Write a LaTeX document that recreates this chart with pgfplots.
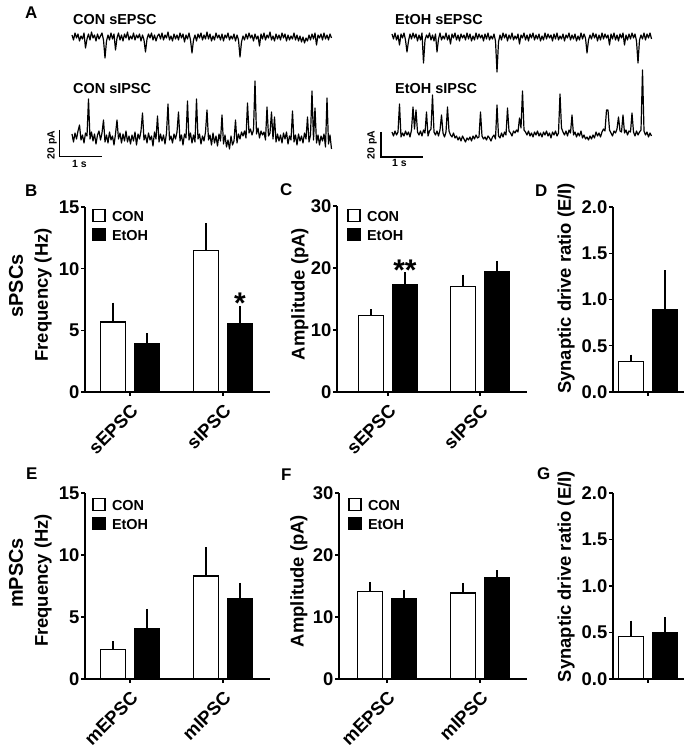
\documentclass[border=0pt]{standalone}
\usepackage{pgfplots}
\pgfplotsset{compat=1.18}
\usepackage{pgfplotstable}
\usepackage{fontspec}
\setmainfont{Liberation Sans}

\newcommand{\fs}[1]{\fontsize{#1}{#1}\selectfont\bfseries}

% traces, one value per sample (pA scaled to px, baseline = 0)
\pgfplotstableread[header=false,row sep=\\]{
2\\-3\\4\\-1\\3\\-4\\1\\-2\\4\\-11\\
-2\\3\\-3\\5\\-1\\2\\-4\\3\\-2\\1\\
4\\-3\\-21\\-4\\2\\-3\\4\\-2\\3\\-13\\
-1\\4\\-3\\2\\-4\\3\\-1\\5\\-3\\1\\
-2\\4\\-3\\2\\-1\\3\\-4\\2\\-3\\-15\\
-2\\3\\-1\\4\\-3\\2\\-4\\1\\3\\-2\\
4\\-3\\2\\-1\\5\\-3\\1\\-4\\3\\-2\\
2\\-3\\4\\-1\\3\\-5\\2\\-2\\4\\-3\\
-16\\-3\\2\\-4\\3\\-1\\4\\-3\\2\\-2\\
5\\-2\\3\\-4\\1\\-3\\4\\-1\\2\\-3\\
3\\-4\\2\\-1\\4\\-3\\1\\-2\\3\\-4\\
2\\-3\\-20\\-5\\1\\-3\\3\\-2\\4\\-1\\
2\\-4\\3\\-2\\1\\-9\\3\\-2\\4\\-3\\
2\\-1\\5\\-3\\1\\-4\\3\\-2\\2\\-3\\
4\\-1\\3\\-4\\2\\-3\\1\\-2\\4\\-3\\
2\\-4\\1\\-5\\0\\-6\\-1\\-4\\2\\-3\\
3\\-2\\4\\-8\\2\\-1\\3\\-3\\4\\-2\\
2\\-3\\3\\-1\\
}\conE

\pgfplotstableread[header=false,row sep=\\]{
3\\-5\\4\\-2\\6\\12\\-3\\2\\-6\\4\\
1\\38\\-2\\5\\-4\\3\\-7\\2\\6\\-3\\
4\\17\\-5\\2\\-6\\5\\-3\\1\\-8\\3\\
17\\-2\\4\\-6\\3\\-4\\6\\-5\\1\\-7\\
2\\-4\\5\\-8\\3\\-2\\6\\24\\-3\\2\\
-6\\4\\-3\\1\\-9\\5\\-2\\21\\-5\\3\\
-4\\2\\-7\\4\\33\\-3\\1\\-6\\3\\-2\\
5\\25\\-4\\2\\-8\\3\\-1\\36\\-3\\4\\
-6\\2\\-5\\38\\-2\\3\\-7\\1\\-4\\5\\
27\\-3\\2\\-8\\4\\-6\\1\\-9\\3\\-4\\
22\\-7\\2\\-10\\-3\\-12\\1\\-8\\-4\\17\\
-6\\3\\-2\\5\\1\\6\\-1\\34\\4\\8\\
2\\7\\56\\3\\9\\-1\\6\\2\\5\\-3\\
30\\1\\4\\25\\-2\\20\\-5\\3\\-4\\2\\
-6\\4\\-2\\5\\-7\\1\\-3\\26\\-5\\2\\
-8\\3\\-4\\1\\-6\\4\\-2\\20\\-5\\2\\
46\\-3\\29\\-6\\2\\-8\\1\\-4\\3\\-10\\
39\\-7\\2\\-12\\
}\conI

\pgfplotstableread[header=false,row sep=\\]{
3\\-2\\4\\-3\\2\\-8\\3\\-1\\4\\-3\\
-15\\-4\\3\\-2\\4\\-1\\3\\-4\\2\\-3\\
4\\-26\\-3\\2\\-1\\4\\-3\\2\\-4\\3\\
-15\\-2\\4\\-3\\1\\-2\\4\\-3\\2\\-7\\
3\\-1\\4\\-3\\2\\-4\\3\\-1\\2\\-3\\
4\\-2\\3\\-4\\1\\-3\\4\\-2\\3\\-1\\
2\\-4\\3\\-2\\4\\-3\\1\\-2\\3\\-4\\
-35\\-5\\2\\-3\\4\\-1\\3\\-4\\2\\-2\\
4\\-3\\1\\-2\\3\\-7\\2\\-1\\4\\-3\\
2\\-4\\3\\-1\\4\\-3\\2\\-2\\3\\-4\\
1\\-3\\4\\-2\\3\\-1\\2\\-4\\3\\-2\\
4\\-3\\1\\-2\\3\\-4\\2\\-1\\4\\-3\\
2\\-2\\3\\-4\\1\\-3\\4\\-2\\3\\-1\\
-16\\-3\\2\\-2\\4\\-1\\3\\-4\\2\\-3\\
4\\-2\\3\\-1\\2\\-8\\3\\-2\\4\\-3\\
2\\-4\\3\\-1\\4\\-8\\2\\-3\\3\\-2\\
4\\-1\\3\\-4\\-26\\-3\\2\\-2\\4\\-3\\
3\\-1\\4\\-2\\
}\etE

\pgfplotstableread[header=false,row sep=\\]{
2\\-2\\3\\-1\\2\\30\\-3\\1\\-2\\3\\
-1\\2\\-3\\4\\27\\5\\24\\2\\-1\\3\\
-2\\4\\1\\22\\-2\\3\\5\\39\\2\\-1\\
3\\-2\\4\\19\\1\\-3\\2\\27\\3\\-1\\
-3\\1\\-4\\-2\\-6\\-3\\-7\\-2\\-5\\-8\\
-4\\-6\\-3\\-7\\-2\\-5\\-1\\-4\\-3\\22\\
-2\\-5\\-3\\-6\\-2\\-4\\-7\\-3\\-1\\-5\\
29\\-2\\-4\\1\\-3\\2\\-1\\26\\3\\1\\
-2\\3\\1\\4\\2\\16\\6\\43\\4\\2\\
-1\\3\\-2\\1\\-3\\2\\-1\\3\\-2\\1\\
-3\\2\\-1\\3\\-2\\1\\-4\\2\\-1\\3\\
-2\\1\\40\\6\\2\\-1\\3\\-2\\4\\1\\
19\\-1\\2\\-3\\1\\-2\\3\\-4\\-1\\-5\\
-3\\-6\\-2\\-5\\-1\\-4\\2\\-2\\1\\-3\\
2\\5\\3\\24\\24\\4\\1\\-2\\3\\1\\
5\\17\\3\\2\\19\\1\\4\\-1\\3\\2\\
21\\2\\-2\\3\\-1\\2\\4\\64\\3\\-1\\
2\\-3\\1\\-2\\
}\etI

\pgfplotsset{
  tr/.style={scale only axis, anchor=south west, hide axis,
    width=259.5bp, height=110bp, xmin=0, xmax=173, ymin=-40, ymax=70, clip=false},
  trace/.style={black, line width=1.2bp, line join=round},
  barax/.style={scale only axis, anchor=south west, clip=false,
    axis lines*=left, axis line style={-, line width=1.3bp},
    tick align=outside, major tick length=4bp,
    tick style={line width=1.3bp, black},
    ymin=0, ybar=9bp, bar width=25bp,
    /pgf/number format/assume math mode=true,
    tick label style={font=\fs{18.5}},
    yticklabel style={inner sep=1.5bp},
    xticklabel style={yshift=-7bp, xshift=0bp, rotate=45, anchor=north east, inner sep=0pt},
    every axis y label/.style={rotate=90, anchor=center, font=\fs{18.5}},
    legend style={draw=none, fill=none, font=\fs{14.5}, inner sep=0pt,
      anchor=north west, row sep=3bp, column sep=5bp, nodes={inner sep=1.5bp}},
    legend cell align=left,
    legend image code/.code={\draw[##1, line width=1.3bp] (0bp,-4bp) rectangle (12bp,8bp);},
  },
  con/.style={draw=black, fill=white, line width=1.4bp,
    error bars/y dir=plus, error bars/y explicit,
    error bars/error bar style={line width=1.3bp, black},
    error bars/error mark options={line width=1.3bp, mark size=3.5bp, black}},
  eto/.style={draw=black, fill=black, line width=1.4bp,
    error bars/y dir=plus, error bars/y explicit,
    error bars/error bar style={line width=1.3bp, black},
    error bars/error mark options={line width=1.3bp, mark size=3.5bp, black}},
}

\begin{document}
\begin{tikzpicture}
\useasboundingbox (0,0) rectangle (690bp,750bp);

% ---------- A: traces ----------
\begin{axis}[tr, at={(72bp,673bp)}]
\addplot[trace] table[x expr=\coordindex, y index=0] {\conE};
\end{axis}
\begin{axis}[tr, at={(72bp,573bp)}]
\addplot[trace] table[x expr=\coordindex, y index=0] {\conI};
\addplot[black, line width=1.1bp] coordinates {(-8.44,7) (-8.44,-19.7) (19.8,-19.7)};
\end{axis}
\begin{axis}[tr, at={(392bp,673bp)}]
\addplot[trace] table[x expr=\coordindex, y index=0] {\etE};
\end{axis}
\begin{axis}[tr, at={(392bp,576bp)}]
\addplot[trace] table[x expr=\coordindex, y index=0] {\etI};
\addplot[black, line width=1.1bp] coordinates {(-7.33,2) (-7.33,-23) (20.67,-23)};
\end{axis}

\node[anchor=base west, inner sep=0pt] at (73bp,725bp) {\fs{14.5}CON sEPSC};
\node[anchor=base west, inner sep=0pt] at (73bp,656bp) {\fs{14.5}CON sIPSC};
\node[anchor=base west, inner sep=0pt] at (395bp,725bp) {\fs{14.5}EtOH sEPSC};
\node[anchor=base west, inner sep=0pt] at (395bp,656bp) {\fs{14.5}EtOH sIPSC};
\node[rotate=90, inner sep=0pt] at (52bp,605bp) {\fs{10.5}20 pA};
\node[rotate=90, inner sep=0pt] at (372bp,605bp) {\fs{10.5}20 pA};
\node[anchor=base west, inner sep=0pt] at (72bp,582bp) {\fs{10.5}1 s};
\node[anchor=base west, inner sep=0pt] at (392bp,583bp) {\fs{10.5}1 s};

% ---------- panel letters, row labels ----------
\node[anchor=base west, inner sep=0pt] at (25bp,731bp) {\fs{17}A};
\node[anchor=base west, inner sep=0pt] at (25bp,553bp) {\fs{17}B};
\node[anchor=base west, inner sep=0pt] at (280bp,554bp) {\fs{17}C};
\node[anchor=base west, inner sep=0pt] at (535bp,553bp) {\fs{17}D};
\node[anchor=base west, inner sep=0pt] at (26bp,270bp) {\fs{17}E};
\node[anchor=base west, inner sep=0pt] at (281bp,269bp) {\fs{17}F};
\node[anchor=base west, inner sep=0pt] at (537bp,270bp) {\fs{17}G};
\node[rotate=90, inner sep=0pt] at (16bp,464bp) {\fs{20}sPSCs};
\node[rotate=90, inner sep=0pt] at (16bp,177bp) {\fs{20}mPSCs};

% ---------- B ----------
\begin{axis}[barax, at={(85bp,358bp)}, width=185bp, height=185bp,
  xmin=-0.484, xmax=1.505, ymax=15, ytick={0,5,10,15},
  xtick={0,1}, xticklabels={sEPSC,sIPSC},
  ylabel={Frequency (Hz)}, ylabel style={at={(axis description cs:-0.227,0.525)}},
  legend style={at={(axis description cs:0.038,0.99)}}]
\addplot[con] coordinates {(0,5.68) +- (0,1.29) (1,11.46) +- (0,1.95)};
\addplot[eto] coordinates {(0,3.92) +- (0,0.57) (1,5.51) +- (0,1.19)};
\legend{CON,EtOH}
\node[anchor=base, inner sep=0pt] at (axis cs:1,0) [xshift=17bp, yshift=78bp] {\fs{30}*};
\end{axis}

% ---------- C ----------
\begin{axis}[barax, at={(337bp,358bp)}, width=190bp, height=186bp,
  xmin=-0.554, xmax=1.51, ymax=30, ytick={0,10,20,30},
  xtick={0,1}, xticklabels={sEPSC,sIPSC},
  ylabel={Amplitude (pA)}, ylabel style={at={(axis description cs:-0.195,0.527)}},
  legend style={at={(axis description cs:0.053,0.985)}}]
\addplot[con] coordinates {(0,12.3) +- (0,0.5) (1,17.0) +- (0,1.35)};
\addplot[eto] coordinates {(0,17.26) +- (0,1.45) (1,19.4) +- (0,1.2)};
\legend{CON,EtOH}
\node[anchor=base, inner sep=0pt] at (axis cs:0,0) [xshift=17bp, yshift=111bp] {\fs{30}**};
\end{axis}

% ---------- D ----------
\begin{axis}[barax, at={(613bp,358bp)}, width=71bp, height=185bp,
  xmin=-35, xmax=36, ymax=2, ytick={0,0.5,1,1.5,2},
  yticklabel style={/pgf/number format/.cd, fixed, fixed zerofill, precision=1},
  xtick={0}, xticklabels={},
  ylabel={Synaptic drive ratio (E/I)}, ylabel style={at={(axis description cs:-0.662,0.56)}}]
\addplot[con] coordinates {(0,0.33) +- (0,0.035)};
\addplot[eto] coordinates {(0,0.89) +- (0,0.39)};
\end{axis}

% ---------- E ----------
\begin{axis}[barax, at={(85bp,71bp)}, width=185bp, height=186bp,
  xmin=-0.484, xmax=1.505, ymax=15, ytick={0,5,10,15},
  xtick={0,1}, xticklabels={mEPSC,mIPSC},
  ylabel={Frequency (Hz)}, ylabel style={at={(axis description cs:-0.227,0.53)}},
  legend style={at={(axis description cs:0.038,0.975)}}]
\addplot[con] coordinates {(0,2.4) +- (0,0.37) (1,8.3) +- (0,2.05)};
\addplot[eto] coordinates {(0,4.06) +- (0,1.32) (1,6.5) +- (0,0.97)};
\legend{CON,EtOH}
\end{axis}

% ---------- F ----------
\begin{axis}[barax, at={(339bp,71bp)}, width=188bp, height=186bp,
  xmin=-0.516, xmax=1.505, ymax=30, ytick={0,10,20,30},
  xtick={0,1}, xticklabels={mEPSC,mIPSC},
  ylabel={Amplitude (pA)}, ylabel style={at={(axis description cs:-0.213,0.527)}},
  legend style={at={(axis description cs:0.048,0.975)}}]
\addplot[con] coordinates {(0,14.1) +- (0,1.0) (1,13.9) +- (0,1.05)};
\addplot[eto] coordinates {(0,13.0) +- (0,0.8) (1,16.3) +- (0,0.7)};
\legend{CON,EtOH}
\end{axis}

% ---------- G ----------
\begin{axis}[barax, at={(613bp,71bp)}, width=71bp, height=186bp,
  xmin=-35, xmax=36, ymax=2, ytick={0,0.5,1,1.5,2},
  yticklabel style={/pgf/number format/.cd, fixed, fixed zerofill, precision=1},
  xtick={0}, xticklabels={},
  ylabel={Synaptic drive ratio (E/I)}, ylabel style={at={(axis description cs:-0.662,0.55)}}]
\addplot[con] coordinates {(0,0.46) +- (0,0.13)};
\addplot[eto] coordinates {(0,0.50) +- (0,0.127)};
\end{axis}
\end{tikzpicture}
\end{document}
